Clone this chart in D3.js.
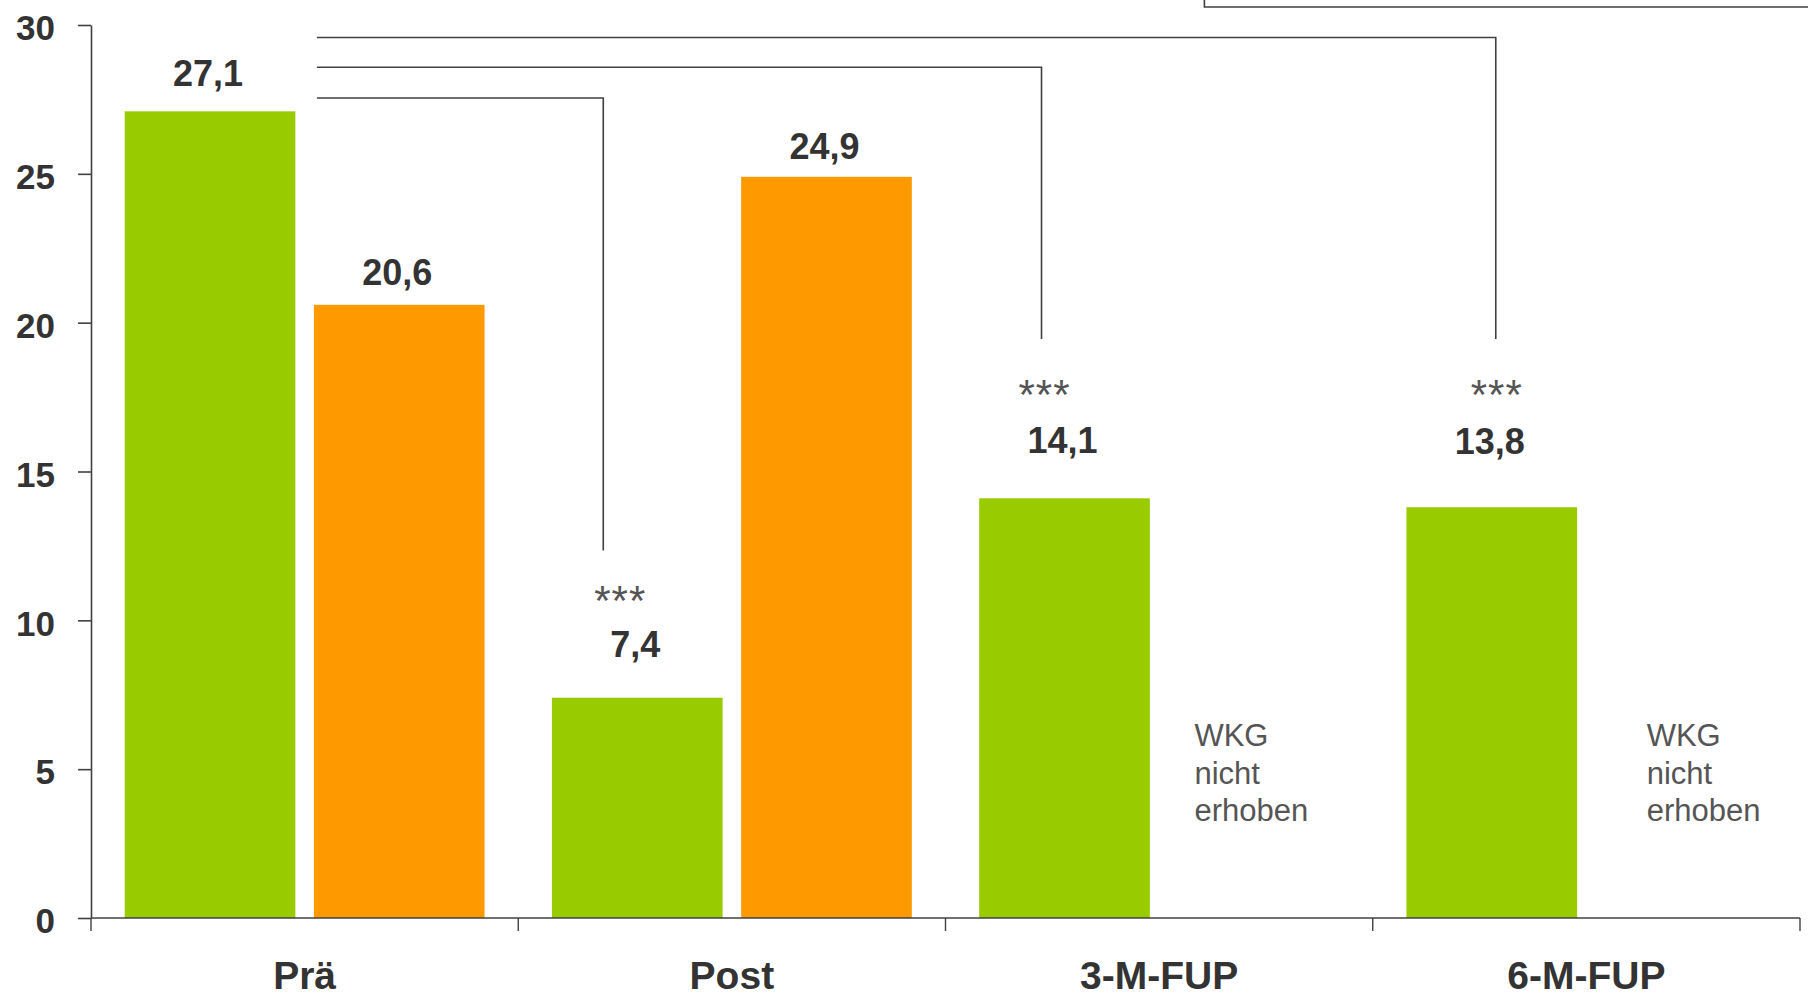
<!DOCTYPE html>
<html lang="de">
<head>
<meta charset="utf-8">
<title>Werte Prä / Post / Follow-up</title>
<script src="https://cdn.jsdelivr.net/npm/d3@7"></script>
<style>
  html, body { margin: 0; padding: 0; background: #ffffff; }
  svg { display: block; font-family: "Liberation Sans", Arial, Helvetica, sans-serif; }
</style>
</head>
<body>
<svg id="chart" width="1808" height="996"></svg>
<script>
// ---- data ----
const categories = ["Prä", "Post", "3-M-FUP", "6-M-FUP"];
const seriesKeys = ["IG", "WKG"];
const igValues  = [27.1, 7.4, 14.1, 13.8];
const wkgValues = [20.6, 24.9, null, null];
const significance = ["", "***", "***", "***"];
const yTicks = [0, 5, 10, 15, 20, 25, 30];
const missingNote = ["WKG", "nicht", "erhoben"];

// ---- layout ----
const W = 1808, H = 996;
const plot = { left: 91, right: 1800, top: 25, bottom: 918 };
const colors = { IG: "#99cc00", WKG: "#ff9900" };
const ink = "#333333", lineInk = "#404040", softInk = "#555555";

const svg = d3.select("#chart");

const x0 = d3.scaleBand().domain(categories).range([plot.left, plot.right]).paddingInner(0).paddingOuter(0);
const x1 = d3.scaleBand().domain(seriesKeys).range([0, x0.bandwidth()]).paddingInner(0.098).paddingOuter(0.178);
const y = d3.scaleLinear().domain([0, 30]).range([plot.bottom, plot.top]);

const rows = categories.map((c, i) => ({
  cat: c, i,
  values: [
    { key: "IG", v: igValues[i] },
    { key: "WKG", v: wkgValues[i] }
  ]
}));

// ---- bars ----
const barG = svg.append("g");
rows.forEach(r => {
  r.values.filter(d => d.v != null).forEach(d => {
    barG.append("rect")
      .attr("x", x0(r.cat) + x1(d.key))
      .attr("y", y(d.v))
      .attr("width", x1.bandwidth())
      .attr("height", y(0) - y(d.v))
      .attr("fill", colors[d.key]);
  });
});

// ---- y axis ----
const yAxis = svg.append("g")
  .attr("transform", `translate(${plot.left},0)`)
  .call(d3.axisLeft(y).tickValues(yTicks).tickSize(13).tickSizeOuter(0).tickPadding(23).tickFormat(d3.format("d")));
yAxis.select(".domain").attr("stroke", lineInk).attr("stroke-width", 1.6);
yAxis.selectAll(".tick line").attr("stroke", lineInk).attr("stroke-width", 1.6);
yAxis.selectAll(".tick text")
  .attr("fill", ink).attr("font-size", 35).attr("font-weight", "bold").attr("dy", "0.42em");

// ---- x axis (ticks at category boundaries) ----
const xAxisG = svg.append("g").attr("transform", `translate(0,${plot.bottom})`);
xAxisG.append("line")
  .attr("x1", plot.left).attr("x2", plot.right)
  .attr("stroke", lineInk).attr("stroke-width", 1.6);
const boundaries = categories.map(c => x0(c)).concat([x0.range()[1]]);
xAxisG.selectAll("line.bound").data(boundaries).join("line")
  .attr("class", "bound")
  .attr("x1", d => d).attr("x2", d => d)
  .attr("y1", 0).attr("y2", 13)
  .attr("stroke", lineInk).attr("stroke-width", 1.4);
xAxisG.selectAll("text.cat").data(categories).join("text")
  .attr("class", "cat")
  .attr("x", d => x0(d) + x0.bandwidth() / 2)
  .attr("y", 71)
  .attr("text-anchor", "middle")
  .attr("fill", ink).attr("font-size", 39).attr("font-weight", "bold")
  .text(d => d);

// ---- value labels ----
// baseline lift above the bar top for each label (IG then WKG per category)
const lift = { "Prä": [25, 20], "Post": [41, 18], "3-M-FUP": [45, 0], "6-M-FUP": [53, 0] };
const fmt = v => d3.format(".1f")(v).replace(".", ",");
rows.forEach(r => {
  r.values.forEach((d, k) => {
    if (d.v == null) return;
    svg.append("text")
      .attr("x", x0(r.cat) + x1(d.key) + x1.bandwidth() / 2 - 2)
      .attr("y", y(d.v) - lift[r.cat][k])
      .attr("text-anchor", "middle")
      .attr("fill", ink).attr("font-size", 36).attr("font-weight", "bold")
      .text(fmt(d.v));
  });
});

// ---- significance brackets: Prä (IG) compared with each later IG bar ----
const bracketStart = x0("Prä") + x1("WKG") + 3;
const brackets = [
  { to: "Post",    level: 27.55, drop: 12.35, dx: -34 },
  { to: "3-M-FUP", level: 28.58, drop: 19.45, dx: -23 },
  { to: "6-M-FUP", level: 29.58, drop: 19.45, dx: 4 }
];
const bracketG = svg.append("g").attr("fill", "none").attr("stroke", lineInk).attr("stroke-width", 1.6);
brackets.forEach(b => {
  const xe = x0(b.to) + x1("IG") + x1.bandwidth() / 2 + b.dx;
  bracketG.append("path")
    .attr("d", `M${bracketStart},${y(b.level)}H${xe}V${y(b.drop)}`);
});
// outer bracket running off the top edge
const outerX = x0("3-M-FUP") + x1("WKG") + 36;
bracketG.append("path").attr("d", `M${outerX},-2V${y(30) - 18}H${W + 2}`);

// stars
const starDx = { "Post": -17, "3-M-FUP": -20, "6-M-FUP": 5 };
const starLift = { "Post": 83, "3-M-FUP": 89, "6-M-FUP": 98 };
rows.forEach(r => {
  if (!significance[r.i]) return;
  svg.append("text")
    .attr("x", x0(r.cat) + x1("IG") + x1.bandwidth() / 2 + starDx[r.cat])
    .attr("y", y(r.values[0].v) - starLift[r.cat])
    .attr("text-anchor", "middle")
    .attr("fill", softInk).attr("font-size", 42).attr("letter-spacing", 1)
    .text(significance[r.i]);
});

// ---- note where the WKG was not collected ----
const noteDx = { "3-M-FUP": 26, "6-M-FUP": 51 };
rows.filter(r => r.values[1].v == null).forEach(r => {
  const t = svg.append("text")
    .attr("x", x0(r.cat) + x1("WKG") + noteDx[r.cat])
    .attr("y", 746)
    .attr("fill", softInk).attr("font-size", 31);
  missingNote.forEach((s, k) => {
    t.append("tspan").attr("x", x0(r.cat) + x1("WKG") + noteDx[r.cat]).attr("dy", k === 0 ? 0 : 37.5).text(s);
  });
});
</script>
</body>
</html>
